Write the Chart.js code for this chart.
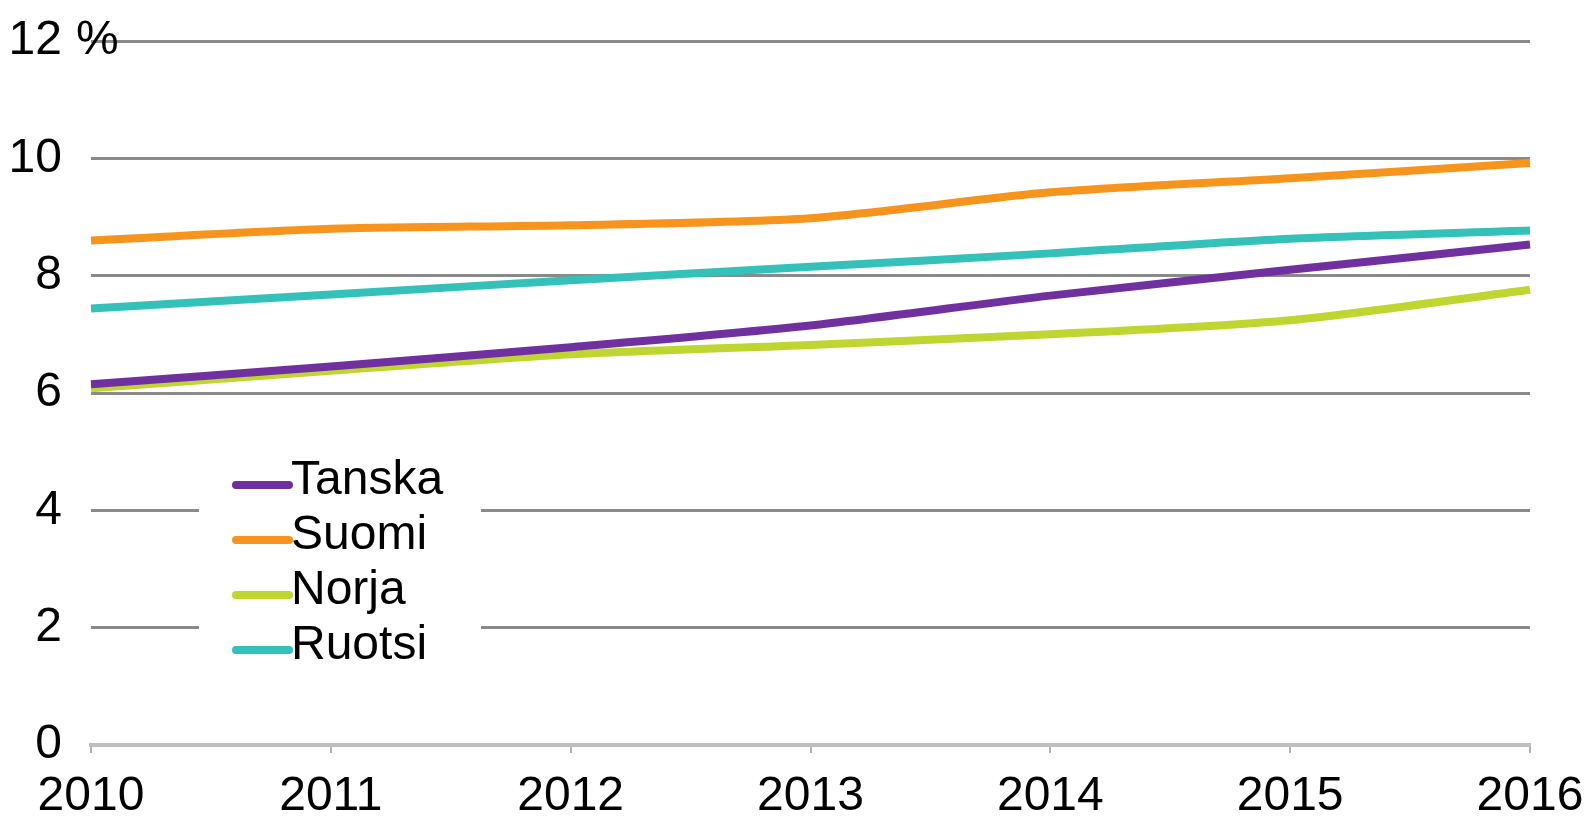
<html>
<head>
<script src="https://cdn.jsdelivr.net/npm/chart.js@4.4.0/dist/chart.umd.min.js"></script>
<style>
  body { margin: 0; background: #fff; }
  #wrap { width: 1594px; height: 817px; position: relative; }
</style>
</head>
<body>
<div id="wrap"><canvas id="myChart"></canvas></div>
<script>
// data
const years = ['2010', '2011', '2012', '2013', '2014', '2015', '2016'];
const tanska = [6.15, 6.45, 6.78, 7.15, 7.66, 8.1, 8.53];
const suomi = [8.6, 8.8, 8.86, 8.98, 9.42, 9.66, 9.92];
const norja = [6.08, 6.38, 6.66, 6.82, 7.0, 7.24, 7.76];
const ruotsi = [7.44, 7.68, 7.92, 8.15, 8.38, 8.63, 8.77];
const yTicks = [0, 2, 4, 6, 8, 10, 12];

const seriesNames = ['Tanska', 'Suomi', 'Norja', 'Ruotsi'];
const seriesData = [tanska, suomi, norja, ruotsi];
const seriesColors = ['#7030a0', '#f7941d', '#bed62f', '#33c1b9'];

const fontFam = '"Liberation Sans", Arial, sans-serif';

// draws the "%" after the top label and the legend box inside the plot
const extras = {
  id: 'extras',
  afterDraw(chart) {
    const ctx = chart.ctx;
    const y = chart.scales.y;
    ctx.save();
    ctx.font = '48px ' + fontFam;
    ctx.fillStyle = '#000';
    ctx.textBaseline = 'middle';
    ctx.textAlign = 'left';
    ctx.fillText('%', 76, y.getPixelForValue(12));

    // legend
    ctx.fillStyle = '#fff';
    ctx.fillRect(199, 445, 282, 235);
    const rows = [481, 536, 591, 646];
    chart.data.datasets.forEach((ds, i) => {
      ctx.strokeStyle = ds.borderColor;
      ctx.lineWidth = 8;
      ctx.lineCap = 'round';
      ctx.beginPath();
      ctx.moveTo(236, rows[i] + 4);
      ctx.lineTo(289, rows[i] + 4);
      ctx.stroke();
      ctx.fillStyle = '#000';
      ctx.fillText(ds.label, 291, rows[i]);
    });
    ctx.restore();
  }
};

const ctx = document.getElementById('myChart').getContext('2d');
const myChart = new Chart(ctx, {
  type: 'line',
  data: {
    labels: years,
    datasets: seriesNames.map((name, i) => ({
      label: name,
      data: seriesData[i],
      borderColor: seriesColors[i],
      backgroundColor: seriesColors[i],
      borderWidth: 8,
      pointRadius: 0,
      tension: 0.25,
      fill: false
    }))
  },
  options: {
    responsive: true,
    maintainAspectRatio: false,
    animation: false,
    layout: { padding: { top: 41, right: 64, left: 0, bottom: 0 } },
    plugins: {
      legend: { display: false },
      tooltip: { enabled: false }
    },
    scales: {
      x: {
        offset: false,
        afterFit: (s) => { s.height = 72; s.paddingLeft = 0; s.paddingRight = 0; },
        border: { display: true, color: '#bfbfbf', width: 4 },
        grid: { drawOnChartArea: false, drawTicks: true, tickLength: 8, color: '#b0b0b0', lineWidth: 2 },
        ticks: { color: '#000', font: { size: 48, family: fontFam }, padding: 15, maxRotation: 0 }
      },
      y: {
        min: 0,
        max: 12,
        afterFit: (s) => { s.width = 91; s.paddingTop = 0; s.paddingBottom = 0; },
        afterBuildTicks: (s) => { s.ticks = yTicks.map(v => ({ value: v })); },
        border: { display: false },
        grid: { drawTicks: false, color: (c) => c.tick.value === 0 ? 'rgba(0,0,0,0)' : '#8a8a8a', lineWidth: 3 },
        ticks: { color: '#000', font: { size: 48, family: fontFam }, padding: 29 }
      }
    }
  },
  plugins: [extras]
});
</script>
</body>
</html>
